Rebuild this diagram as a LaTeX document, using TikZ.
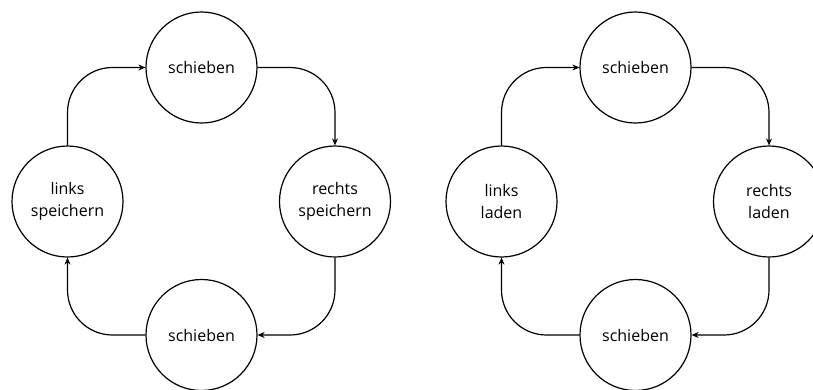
\documentclass[tikz,border=0pt]{standalone}
\usepackage{fontspec}
\setmainfont{Open Sans}
\usetikzlibrary{arrows.meta}
\begin{document}
\begin{tikzpicture}[x=1pt,y=-1pt,
  state/.style={circle,draw,line width=1.2pt,minimum size=111pt,inner sep=0pt,
    align=center,font=\fontsize{16}{22}\selectfont},
  flow/.style={line width=1.2pt,rounded corners=45pt,-{Stealth[length=7pt,width=6pt]}}]
\useasboundingbox (0,0) rectangle (813,389);
% left cycle
\node[state] (t1) at (201.5,67.5) {schieben};
\node[state] (l1) at (67.5,201.5) {links\\speichern};
\node[state] (r1) at (335,201.5) {rechts\\speichern};
\node[state] (b1) at (201.5,335) {schieben};
\draw[flow] (t1.east) -| (r1.north);
\draw[flow] (r1.south) |- (b1.east);
\draw[flow] (b1.west) -| (l1.south);
\draw[flow] (l1.north) |- (t1.west);
% right cycle
\node[state] (t2) at (635.5,67.5) {schieben};
\node[state] (l2) at (501.5,201.5) {links\\laden};
\node[state] (r2) at (769,201.5) {rechts\\laden};
\node[state] (b2) at (635.5,335) {schieben};
\draw[flow] (t2.east) -| (r2.north);
\draw[flow] (r2.south) |- (b2.east);
\draw[flow] (b2.west) -| (l2.south);
\draw[flow] (l2.north) |- (t2.west);
\end{tikzpicture}
\end{document}
